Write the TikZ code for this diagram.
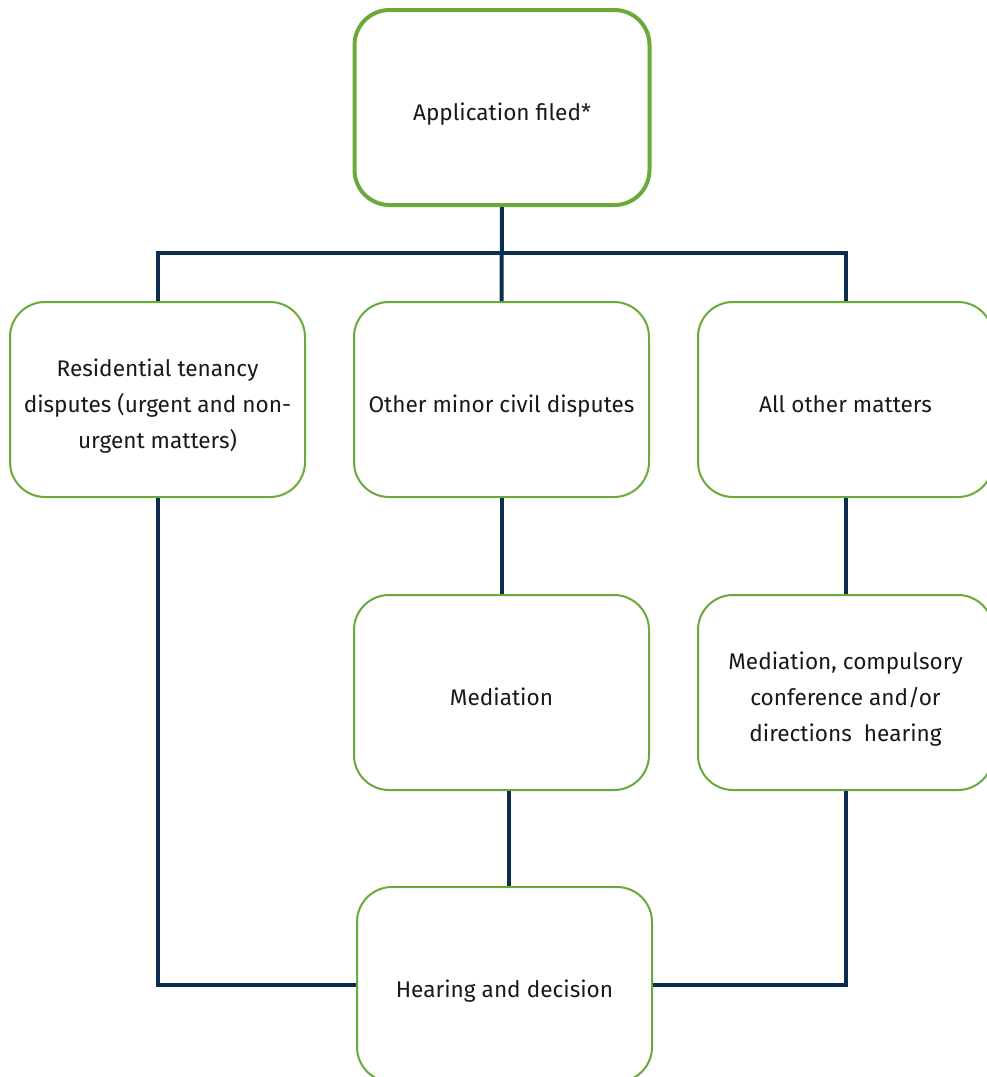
\documentclass[tikz,border=0pt]{standalone}
\usepackage{fontspec}
\setmainfont{Fira Sans}
\definecolor{boxgreen}{RGB}{106,170,56}
\definecolor{navy}{RGB}{10,45,80}
\newcommand\boxtext[1]{\raisebox{-5.5pt}[\height][\depth]{\begin{tabular}{@{}c@{}}#1\end{tabular}}}
\begin{document}
\begin{tikzpicture}[x=1pt,y=-1pt,
  box/.style={draw=boxgreen, line width=2pt, fill=white, rounded corners=35pt,
    minimum width=295pt, minimum height=195pt, inner sep=0pt,
    font=\fontsize{22.6}{36}\selectfont, text=black!90},
  bigbox/.style={box, line width=4pt},
  conn/.style={draw=navy, line width=4pt}]
\useasboundingbox (0,0) rectangle (987,1077);
\coordinate (busY) at (0,253);
\node[bigbox] (app) at (502,107.5) {\boxtext{Application filed*}};
\node[box] (res) at (157.5,399.5) {\boxtext{Residential tenancy\\disputes (urgent and non-\\urgent matters)}};
\node[box] (other) at (501.5,399.5) {\boxtext{Other minor civil disputes}};
\node[box] (all) at (845.5,399.5) {\boxtext{All other matters}};
\node[box] (med) at (501.5,692.5) {\boxtext{Mediation}};
\node[box] (mcd) at (845.5,692.5) {\boxtext{Mediation, compulsory\\conference and/or\\directions~ hearing}};
\node[box] (hear) at (504.5,984.5) {\boxtext{Hearing and decision}};
\draw[conn] (app.south) -- (other.north);
\draw[conn] (res.north) -- (res.north |- busY) -- (all.north |- busY) -- (all.north);
\draw[conn] (other.south) -- (med.north);
\draw[conn] (all.south) -- (mcd.north);
\draw[conn] ([xshift=4pt]hear.north) -- ([xshift=4pt]hear.north |- med.south);
\draw[conn] (res.south) |- (hear.west);
\draw[conn] (mcd.south) |- (hear.east);
\end{tikzpicture}
\end{document}
